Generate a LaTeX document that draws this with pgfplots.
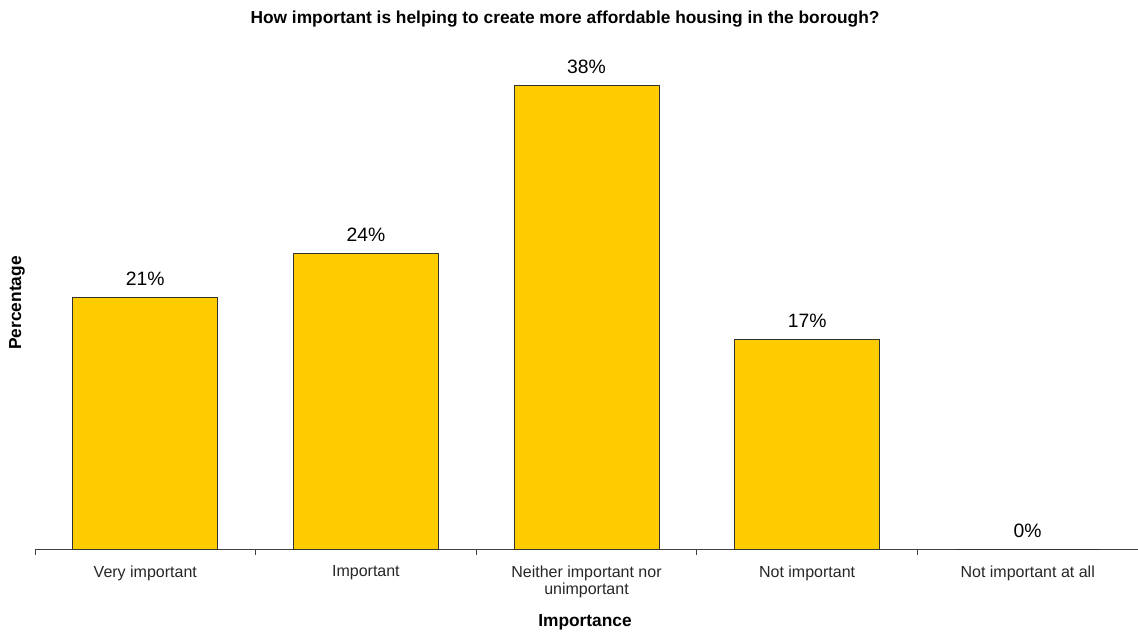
\documentclass[border=0pt]{standalone}
\usepackage{fontspec}
\setmainfont{Liberation Sans}
\usepackage{pgfplots}
\pgfplotsset{compat=1.18}
\definecolor{barfill}{HTML}{FFCC00}
\begin{document}
\begin{tikzpicture}
\path[use as bounding box] (0,0) rectangle (853.5pt,474.75pt);
\begin{axis}[
  at={(26.25pt,62.6pt)}, anchor=south west,
  scale only axis, width=827.25pt, height=374.6pt,
  xmin=-0.5, xmax=4.5, ymin=0, ymax=40.87,
  /pgf/number format/assume math mode=true,
  axis x line*=bottom, axis y line*=left,
  y axis line style={draw=none},
  x axis line style={black!75, line width=0.75pt, -},
  ytick=\empty,
  xtick={0,1,2,3,4},
  xticklabels={Very important, Important, {Neither important nor\\unimportant}, Not important, Not important at all},
  major tick length=0pt,
  extra x ticks={-0.5,0.5,1.5,2.5,3.5},
  extra x tick labels={},
  extra x tick style={tick align=outside, major tick length=3.75pt, tick style={black!75, line width=0.75pt}},
  xticklabel style={font=\fontsize{12}{12.75}\selectfont, align=center, text=black!85, yshift=-8.5pt},
  ybar, bar width=108.75pt,
  nodes near coords={\pgfmathprintnumber[fixed,precision=0,assume math mode=true]{\pgfplotspointmeta}\%},
  nodes near coords style={font=\fontsize{14.5}{16}\selectfont, anchor=base, inner sep=0pt, yshift=9pt},
  clip=false,
]
\addplot[fill=barfill, draw=black!80, line width=0.75pt] coordinates {
  (0,20.6) (1,24.2) (2,38.0) (3,17.2) (4,0)
};
\end{axis}
\node[font=\bfseries\fontsize{13}{15}\selectfont] at (423.75pt,460.5pt) {How important is helping to create more affordable housing in the borough?};
\node[font=\bfseries\fontsize{13}{15}\selectfont, rotate=90] at (12.75pt,247.5pt) {Percentage};
\node[font=\bfseries\fontsize{13}{15}\selectfont] at (438.75pt,8.25pt) {Importance};
\end{tikzpicture}
\end{document}
